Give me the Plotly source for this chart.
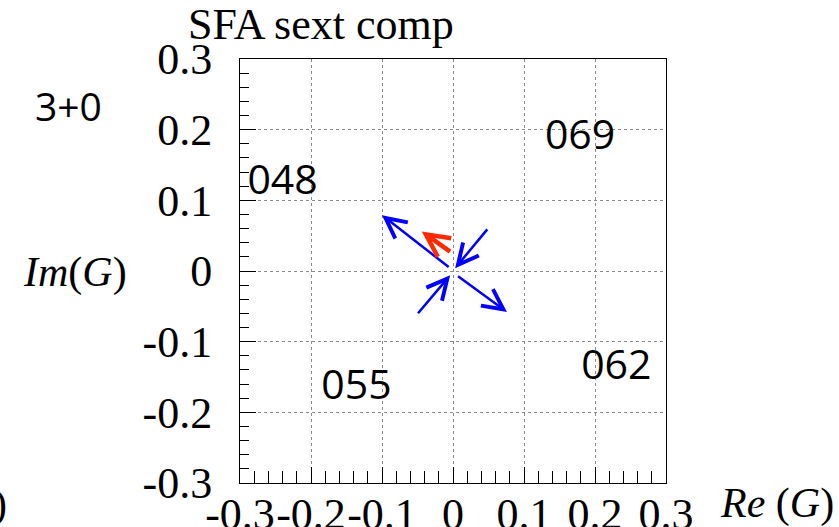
import plotly.graph_objects as go

# ---- data ----
tick_vals = [-0.3, -0.2, -0.1, 0.0, 0.1, 0.2, 0.3]
tick_text = ["-0.3", "-0.2", "-0.1", "0", "0.1", "0.2", "0.3"]

label_text = ["069", "048", "055", "062"]
label_x = [0.179, -0.240, -0.136, 0.230]
label_y = [0.187, 0.123, -0.166, -0.139]

arrow_x0 = [-0.004, 0.005, 0.050, -0.051, -0.002]
arrow_y0 = [0.004, -0.006, 0.061, -0.062, 0.026]
arrow_x1 = [-0.100, 0.076, 0.003, -0.004, -0.044]
arrow_y1 = [0.079, -0.058, 0.004, -0.006, 0.056]
arrow_color = ["#0000ff", "#0000ff", "#0000ff", "#0000ff", "#ff2a00"]
arrow_width = [2.5, 2.5, 2.5, 2.5, 4.5]

title_text = "SFA sext comp"
corner_text = "3+0"

W, H = 839, 527
L, R, T, B = 240, 666, 59, 483

fig = go.Figure()
fig.add_trace(go.Scatter(
    x=label_x, y=label_y, text=label_text, mode="text",
    textfont=dict(family="Open Sans", size=41, color="black"),
    textposition="middle center", showlegend=False, hoverinfo="skip"))

annotations = []
for x0, y0, x1, y1, c, w in zip(arrow_x0, arrow_y0, arrow_x1, arrow_y1, arrow_color, arrow_width):
    annotations.append(dict(
        x=x1, y=y1, ax=x0, ay=y0, xref="x", yref="y", axref="x", ayref="y",
        text="", showarrow=True, arrowhead=5, arrowsize=1.6 if w < 3 else 1.0,
        arrowwidth=w, arrowcolor=c, standoff=0, startstandoff=0))

def px2paper(px, py):
    return (px - L) / (R - L), (B - py) / (B - T)

serif = "Liberation Serif, Times New Roman, Times, serif"
tx, ty = px2paper(321, 25)
annotations.append(dict(text=title_text, x=tx, y=ty, xref="paper", yref="paper",
                        xanchor="center", yanchor="middle", showarrow=False,
                        font=dict(family=serif, size=44, color="black")))
cx, cy = px2paper(68, 106)
annotations.append(dict(text=corner_text, x=cx, y=cy, xref="paper", yref="paper",
                        xanchor="center", yanchor="middle", showarrow=False,
                        font=dict(family="Open Sans", size=39, color="black")))
ix, iy = px2paper(75, 272)
annotations.append(dict(text="<i>Im</i>(<i>G</i>)", x=ix, y=iy, xref="paper", yref="paper",
                        xanchor="center", yanchor="middle", showarrow=False,
                        font=dict(family=serif, size=42, color="black")))
rx, ry = px2paper(836, 503)
annotations.append(dict(text="<i>Re</i> (<i>G</i>)", x=rx, y=ry, xref="paper", yref="paper",
                        xanchor="right", yanchor="middle", showarrow=False,
                        font=dict(family=serif, size=42, color="black")))
px_, py_ = px2paper(9, 504)
annotations.append(dict(text=")", x=px_, y=py_, xref="paper", yref="paper",
                        xanchor="right", yanchor="middle", showarrow=False,
                        font=dict(family=serif, size=42, color="black")))

axis_common = dict(
    range=[-0.3, 0.3], tickmode="array", tickvals=tick_vals, ticktext=tick_text,
    showline=True, linecolor="black", linewidth=1, mirror=True,
    ticks="inside", tickcolor="black", tickwidth=1, tickangle=0,
    showgrid=True, gridcolor="#8a8a8a", griddash="dot", gridwidth=1,
    zeroline=False, tickfont=dict(family=serif, size=44, color="black"),
)

fig.update_layout(
    width=W, height=H,
    margin=dict(l=L, r=W - R, t=T, b=H - B, autoexpand=False),
    paper_bgcolor="white", plot_bgcolor="white",
    showlegend=False, annotations=annotations,
    xaxis=dict(**axis_common, ticklen=16, ticklabelstandoff=-8,
               minor=dict(dtick=0.02, tick0=0, ticks="inside", ticklen=12,
                          tickcolor="black", tickwidth=1, showgrid=False)),
    yaxis=dict(**axis_common, ticklen=16, ticklabelstandoff=18,
               minor=dict(dtick=0.02, tick0=0, ticks="inside", ticklen=9,
                          tickcolor="black", tickwidth=1, showgrid=False)),
)

fig.write_html("out.html")
